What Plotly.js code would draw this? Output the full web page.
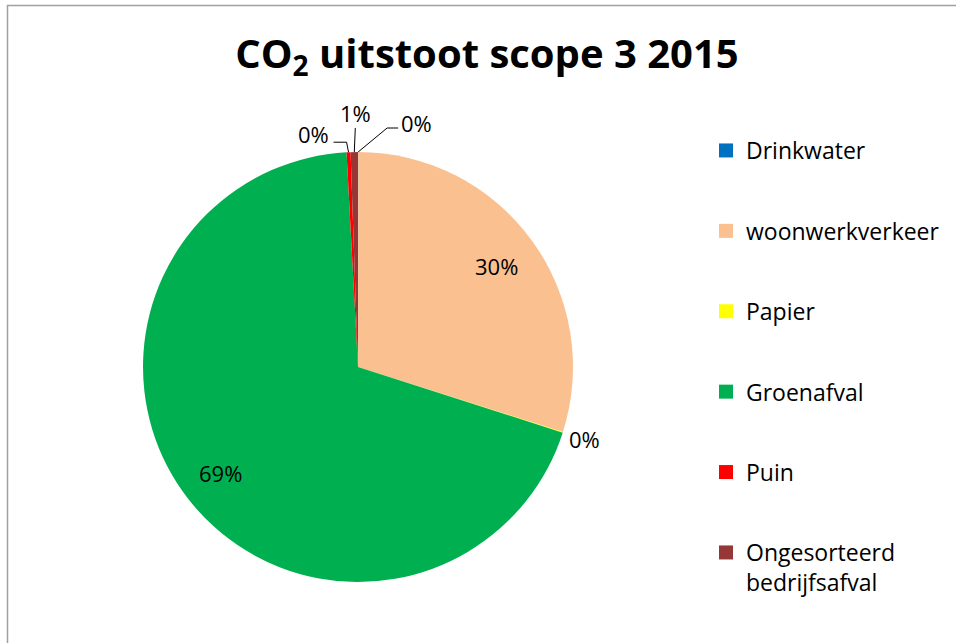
<!DOCTYPE html>
<html>
<head>
<meta charset="utf-8">
<script src="https://cdn.plot.ly/plotly-3.0.1.min.js"></script>
<style>
  html, body { margin: 0; padding: 0; background: #ffffff; }
  #chart { width: 956px; height: 643px; }
</style>
</head>
<body>
<div id="chart"></div>
<script>
// ---- data ----
const categories = ["Drinkwater", "woonwerkverkeer", "Papier", "Groenafval", "Puin", "Ongesorteerd<br>bedrijfsafval"];
const shares = [0.02, 29.88, 0.05, 69.23, 0.30, 0.55];
const colors = ["#0070C0", "#FAC090", "#FFFF00", "#00B050", "#FF0000", "#953735"];
const chartTitle = "CO<sub>2</sub> uitstoot scope 3 2015";

// ---- layout / style ----
const W = 956, H = 643;
const cx = 358, cy = 367, R = 215;          // pie centre & radius in pixels
const FONT = "Open Sans, Liberation Sans, sans-serif";
const labelStyle = [
  {mode: "leader", label: [58, -29], path: [[29, -24], [40, -24]]},
  {mode: "inside", r: 0.80},
  {mode: "radial", r: 1.105},
  {mode: "inside", r: 0.81},
  {mode: "leader", label: [-35, -18], path: [[-2, -10], [-15, -10]]},
  {mode: "leader", label: [1, -39], path: [[1, -24]]}
];

const total = shares.reduce((a, b) => a + b, 0);
const traces = [];

// pie itself
traces.push({
  type: "pie",
  values: shares,
  labels: categories,
  marker: {colors: colors, line: {width: 0}},
  sort: false,
  direction: "clockwise",
  rotation: 0,
  textinfo: "none",
  hoverinfo: "label+percent",
  showlegend: false,
  domain: {x: [(cx - R) / W, (cx + R) / W], y: [1 - (cy + R) / H, 1 - (cy - R) / H]}
});

// percentage labels + leader lines computed from the data
const annotations = [];
let cum = 0;
shares.forEach((v, i) => {
  const mid = (cum + v / 2) / total;
  cum += v;
  const th = 2 * Math.PI * mid;
  const s = Math.sin(th), c = Math.cos(th);
  const txt = Math.round(v / total * 100) + "%";
  const st = labelStyle[i];
  let lx, ly;
  if (st.mode === "leader") {
    const ex = cx + R * s, ey = cy - R * c;
    lx = ex + st.label[0]; ly = ey + st.label[1];
    const xs = [ex], ys = [ey];
    st.path.forEach(p => { xs.push(ex + p[0]); ys.push(ey + p[1]); });
    traces.push({type: "scatter", mode: "lines", x: xs, y: ys,
      line: {color: "#000000", width: 1}, showlegend: false, hoverinfo: "skip"});
  } else {
    lx = cx + st.r * R * s; ly = cy - st.r * R * c;
  }
  annotations.push({x: lx, y: ly, xref: "x", yref: "y", text: txt, showarrow: false,
    xanchor: "center", yanchor: "middle", font: {family: FONT, size: 22, color: "#000000"}});
});

// legend entries
categories.forEach((name, i) => {
  traces.push({type: "scatter", mode: "markers", x: [null], y: [null], name: name,
    legendgroup: "g" + i, marker: {symbol: "square", size: 14, color: colors[i], line: {width: 0}},
    hoverinfo: "skip"});
});

const layout = {
  width: W, height: H,
  margin: {l: 0, r: 0, t: 0, b: 0, pad: 0},
  paper_bgcolor: "#ffffff", plot_bgcolor: "rgba(0,0,0,0)",
  font: {family: FONT, color: "#000000"},
  title: {text: chartTitle, x: 487 / W, xanchor: "center", xref: "paper",
    y: 1 - 54 / H, yanchor: "middle", yref: "container",
    font: {family: FONT, size: 40, color: "#000000", weight: "bold"}},
  xaxis: {range: [0, W], visible: false, fixedrange: true},
  yaxis: {range: [H, 0], visible: false, fixedrange: true},
  showlegend: true,
  legend: {x: 706 / W, xanchor: "left", y: 1 - 129 / H, yanchor: "top",
    tracegroupgap: 47.5, traceorder: "grouped", valign: "top",
    font: {family: FONT, size: 23, color: "#000000"}, bgcolor: "rgba(0,0,0,0)"},
  annotations: annotations,
  shapes: [
    {type: "line", xref: "x", yref: "y", x0: 7, x1: W, y0: 5.5, y1: 5.5, line: {color: "#a0a0a0", width: 1.5}},
    {type: "line", xref: "x", yref: "y", x0: 7.5, x1: 7.5, y0: 5, y1: H, line: {color: "#a0a0a0", width: 1.5}}
  ]
};

Plotly.newPlot("chart", traces, layout, {displayModeBar: false, staticPlot: true});
</script>
</body>
</html>
